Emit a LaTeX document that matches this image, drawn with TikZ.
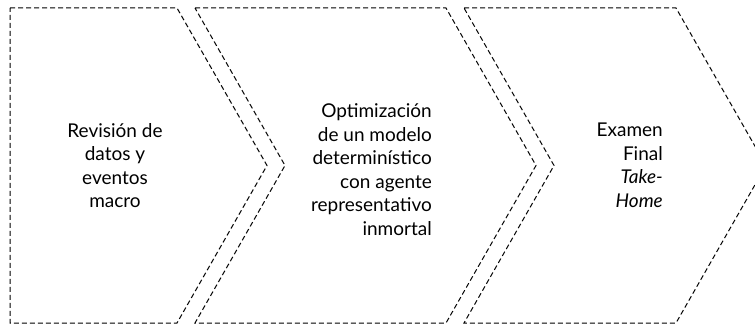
\documentclass[tikz,border=0pt]{standalone}
\usepackage{fontspec}
\setmainfont{Lato}
\begin{document}
\begin{tikzpicture}[x=1pt,y=-1pt,
		etapa/.style={draw, line width=1pt, dash pattern=on 5pt off 3pt},
		rotulo/.style={font=\fontsize{19}{23.5}\selectfont, inner sep=0pt}]
				\pgfmathsetmacro\TOP{8}
				\pgfmathsetmacro\BOT{323}
				\pgfmathsetmacro\MID{165.5}
				\pgfmathsetmacro\PUNTA{90}
				\clip (0,0) rectangle (755,331);
				\useasboundingbox (0,0) rectangle (755,331);

				% primera etapa (pentagono)
				\draw[etapa] (10,\TOP) -- (177,\TOP) -- (177+\PUNTA,\MID) -- (177,\BOT) -- (10,\BOT) -- cycle;
				% segunda y tercera etapa (chevrones)
				\draw[etapa] (195,\TOP) -- (446,\TOP) -- (446+\PUNTA,\MID) -- (446,\BOT) -- (195,\BOT) -- (195+\PUNTA,\MID) -- cycle;
				\draw[etapa] (464,\TOP) -- (676,\TOP) -- (676+\PUNTA,\MID) -- (676,\BOT) -- (464,\BOT) -- (464+\PUNTA,\MID) -- cycle;

				\node[rotulo, align=center] (revision) at (115,\MID) {Revisión de\\datos y\\eventos\\macro};
				\node[rotulo, align=right, anchor=east] (optimizacion) at (432,\MID+4) {Optimización\\de un modelo\\determinístico\\con agente\\representativo\\inmortal};
				\node[rotulo, align=right, anchor=east] (examen) at (663,\MID) {Examen\\Final\\\textit{Take-}\\\textit{Home}};
			\end{tikzpicture}
\end{document}
